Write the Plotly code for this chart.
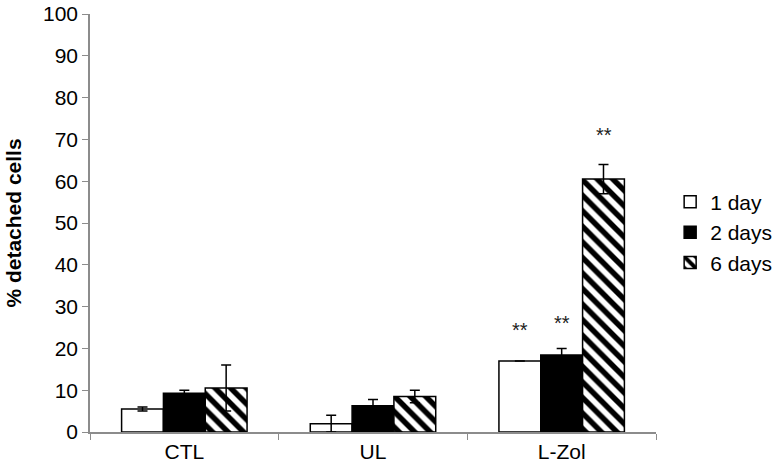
import plotly.graph_objects as go

categories = ["CTL", "UL", "L-Zol"]
series_names = ["1 day", "2 days", "6 days"]
day1 = [5.5, 2.0, 17.0]
day1_err = [0.5, 2.0, 0.0]
day2 = [9.3, 6.3, 18.4]
day2_err = [0.7, 1.5, 1.6]
day6 = [10.5, 8.5, 60.5]
day6_err = [5.5, 1.5, 3.5]
stars = [["", "", "**"], ["", "", "**"], ["", "", "**"]]
star_y = [[None, None, 24.4], [None, None, 26.0], [None, None, 71.0]]

values = [day1, day2, day6]
errors = [day1_err, day2_err, day6_err]
fills = ["white", "black", "white"]
patterns = ["", "", "\\"]

FONT = "Liberation Sans, Arial, sans-serif"

fig = go.Figure()
for i in range(3):
    fig.add_trace(go.Bar(
        x=categories, y=values[i], name=series_names[i],
        marker=dict(color=fills[i], line=dict(color="black", width=1.5),
                    pattern=dict(shape=patterns[i], fgcolor="black", bgcolor="white",
                                 fgopacity=1, size=11, solidity=0.5)),
        error_y=dict(type="data", array=errors[i], visible=True, color="black",
                     thickness=1.5, width=5),
    ))

bar_px = 42
offsets = [-bar_px, 0, bar_px]
for i in range(3):
    for j, c in enumerate(categories):
        if stars[i][j]:
            fig.add_annotation(x=c, y=star_y[i][j], text=stars[i][j], showarrow=False,
                               xref="x", yref="y", xshift=offsets[i],
                               font=dict(family=FONT, size=20, color="#222"))

fig.update_layout(
    width=781, height=472,
    margin=dict(l=90, r=125, t=14, b=40, autoexpand=False),
    plot_bgcolor="white", paper_bgcolor="white",
    barmode="group", bargap=0.335, bargroupgap=0,
    font=dict(family=FONT, size=21, color="black"),
    legend=dict(x=1.025, y=0.478, xanchor="left", yanchor="middle",
                font=dict(size=21), itemwidth=30, tracegroupgap=10),
    showlegend=True,
)
fig.update_xaxes(showline=True, linecolor="#8c8c8c", linewidth=1.5, automargin=False,
                 ticks="outside", tickson="boundaries", ticklen=6, tickcolor="#8c8c8c",
                 tickfont=dict(size=21))
fig.update_yaxes(range=[0, 100], dtick=10, showline=True, linecolor="#8c8c8c", linewidth=1.5,
                 automargin=False,
                 ticks="outside", ticklen=6, tickcolor="#8c8c8c", showgrid=False, zeroline=False,
                 tickfont=dict(size=21),
                 title=dict(text="<b>% detached cells</b>", font=dict(size=21), standoff=16))

fig.write_html("out.html", config={"displayModeBar": False})
with open("out.html", "r", encoding="utf-8") as f:
    html = f.read()
html = html.replace("<body>", '<body style="margin:0">', 1)
with open("out.html", "w", encoding="utf-8") as f:
    f.write(html)
